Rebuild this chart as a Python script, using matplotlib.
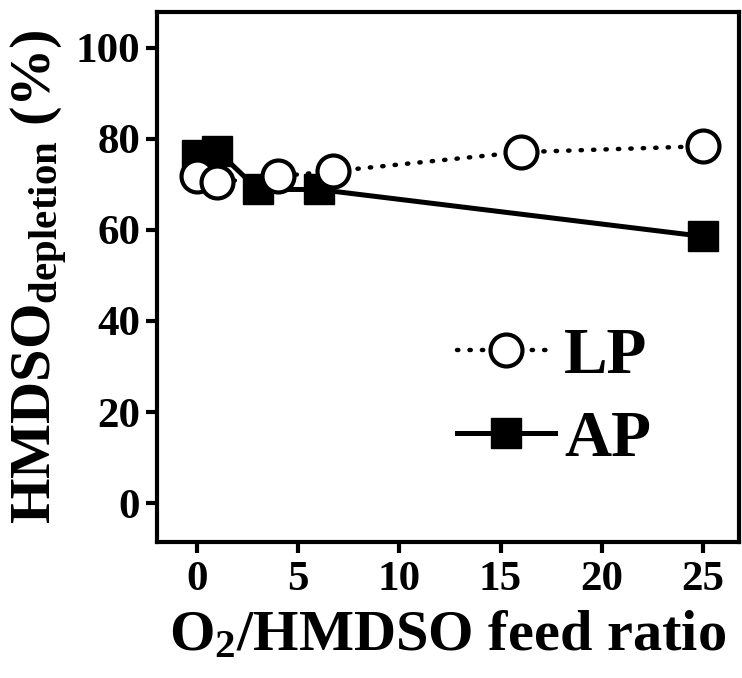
import matplotlib
matplotlib.use("Agg")
import matplotlib.pyplot as plt

plt.rcParams['font.family'] = ['Liberation Serif', 'DejaVu Serif']
plt.rcParams['font.weight'] = 'bold'
plt.rcParams['mathtext.fontset'] = 'custom'
plt.rcParams['mathtext.rm'] = 'Liberation Serif:bold'
plt.rcParams['mathtext.bf'] = 'Liberation Serif:bold'
plt.rcParams['mathtext.it'] = 'Liberation Serif:bold'

# data
lp_x = [0, 1, 4, 6.7, 16, 25]
lp_y = [71.8, 70.5, 71.8, 72.9, 77.1, 78.4]
ap_x = [0, 1, 3, 6, 25]
ap_y = [76.5, 77.4, 68.9, 68.9, 58.6]

xticks = [0, 5, 10, 15, 20, 25]
yticks = [0, 20, 40, 60, 80, 100]

fig = plt.figure(figsize=(7.42, 6.78), dpi=100)
ax = fig.add_axes([0.2112, 0.201, 0.785, 0.782])

ap, = ax.plot(ap_x, ap_y, color='k', lw=3.6, marker='s', ms=22,
              mfc='k', mec='k', label='AP', zorder=2)
lp, = ax.plot(lp_x, lp_y, color='k', lw=3.2, ls=(0, (0.3, 2.5)),
              dash_capstyle='round', marker='o', ms=23, mfc='white',
              mec='k', mew=3, label='LP', zorder=3)

ax.set_xlim(-2, 26.8)
ax.set_ylim(-8.5, 108)
ax.set_xticks(xticks)
ax.set_yticks(yticks)

for s in ax.spines.values():
    s.set_linewidth(3)
ax.tick_params(direction='out', length=8, width=3, labelsize=31)
ax.tick_params(axis='y', pad=4)
ax.tick_params(axis='x', pad=6)

ax.set_xlabel(r'O$_{\mathrm{2}}$/HMDSO feed ratio', fontsize=42,
              fontweight='bold', labelpad=8)
ax.set_ylabel(r'HMDSO$_{\mathrm{depletion}}$ (%)', fontsize=42,
              fontweight='bold', labelpad=4)

leg = ax.legend(handles=[lp, ap], loc='lower right', frameon=False,
                fontsize=47, handlelength=1.5, handletextpad=0.15,
                labelspacing=0.35, bbox_to_anchor=(0.95, 0.025))

fig.savefig('out.png', dpi=100)
